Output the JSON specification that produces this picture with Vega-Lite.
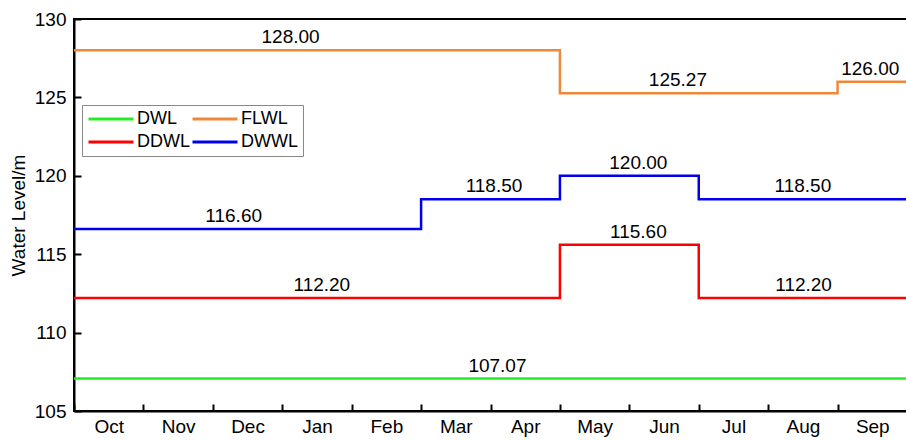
{
  "$schema": "https://vega.github.io/schema/vega-lite/v6.json",
  "autosize": "none",
  "width": 833,
  "height": 392,
  "padding": {"left": 74, "top": 19, "right": 0, "bottom": 29},
  "background": "white",
  "config": {
    "font": "Liberation Sans",
    "view": {"stroke": "black", "strokeWidth": 2},
    "axis": {"grid": false, "domainColor": "black", "domainWidth": 2, "tickColor": "black", "tickWidth": 2, "labelColor": "black", "titleColor": "black", "labelFontSize": 19, "titleFontSize": 19, "titleFontWeight": "normal"}
  },
  "datasets": {
    "lines": [
      {"series": "DWL", "x": 0, "level": 107.07},
      {"series": "DWL", "x": 12, "level": 107.07},
      {"series": "FLWL", "x": 0, "level": 128.0},
      {"series": "FLWL", "x": 7, "level": 125.27},
      {"series": "FLWL", "x": 11, "level": 126.0},
      {"series": "FLWL", "x": 12, "level": 126.0},
      {"series": "DDWL", "x": 0, "level": 112.2},
      {"series": "DDWL", "x": 7, "level": 115.6},
      {"series": "DDWL", "x": 9, "level": 112.2},
      {"series": "DDWL", "x": 12, "level": 112.2},
      {"series": "DWWL", "x": 0, "level": 116.6},
      {"series": "DWWL", "x": 5, "level": 118.5},
      {"series": "DWWL", "x": 7, "level": 120.0},
      {"series": "DWWL", "x": 9, "level": 118.5},
      {"series": "DWWL", "x": 12, "level": 118.5}
    ],
    "labels": [
      {"series": "FLWL", "x": 3.12, "level": 128.0},
      {"series": "FLWL", "x": 8.7, "level": 125.27},
      {"series": "FLWL", "x": 11.47, "level": 126.0},
      {"series": "DWWL", "x": 2.3, "level": 116.6},
      {"series": "DWWL", "x": 6.05, "level": 118.5},
      {"series": "DWWL", "x": 8.13, "level": 120.0},
      {"series": "DWWL", "x": 10.5, "level": 118.5},
      {"series": "DDWL", "x": 3.57, "level": 112.2},
      {"series": "DDWL", "x": 8.13, "level": 115.6},
      {"series": "DDWL", "x": 10.51, "level": 112.2},
      {"series": "DWL", "x": 6.1, "level": 107.07}
    ]
  },
  "layer": [
    {
      "data": {"name": "lines"},
      "mark": {"type": "line", "interpolate": "step-after", "strokeWidth": 2.5, "clip": true},
      "encoding": {
        "x": {"field": "x", "type": "quantitative", "scale": {"domain": [0, 12], "nice": false, "zero": false},
          "axis": {"title": null, "values": [0,1,2,3,4,5,6,7,8,9,10,11], "tickSize": -7, "labelOffset": 34.7, "labelPadding": 13, "labelFlush": false, "labelOverlap": false,
            "labelExpr": "['Oct','Nov','Dec','Jan','Feb','Mar','Apr','May','Jun','Jul','Aug','Sep'][datum.value]"}},
        "y": {"field": "level", "type": "quantitative", "scale": {"domain": [105, 130], "nice": false, "zero": false},
          "axis": {"title": "Water Level/m", "values": [105,110,115,120,125,130], "tickSize": -7, "labelPadding": 15, "titlePadding": 6}},
        "color": {"field": "series", "type": "nominal",
          "scale": {"domain": ["DWL", "DDWL", "FLWL", "DWWL"], "range": ["#22ee22", "#ff0000", "#f0883a", "#0000ee"]},
          "legend": {"title": null, "orient": "none", "legendX": 8, "legendY": 86, "columns": 2, "symbolType": "stroke", "symbolSize": 2025, "symbolStrokeWidth": 3, "clipHeight": 18, "labelFontSize": 18, "labelColor": "black", "labelOffset": 2, "columnPadding": 1, "rowPadding": 5, "padding": 5, "strokeColor": "#888888", "fillColor": "white"}}
      }
    },
    {
      "data": {"name": "labels"},
      "mark": {"type": "text", "fontSize": 19, "color": "black", "baseline": "alphabetic", "dy": -7},
      "encoding": {
        "x": {"field": "x", "type": "quantitative"},
        "y": {"field": "level", "type": "quantitative"},
        "text": {"field": "level", "type": "quantitative", "format": ".2f"}
      }
    }
  ]
}
